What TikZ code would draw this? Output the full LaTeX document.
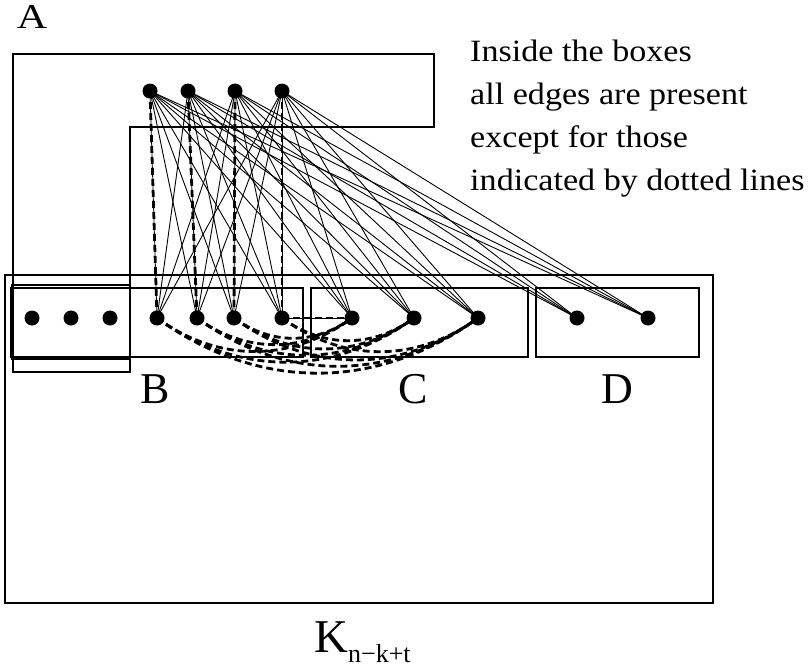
\documentclass[tikz,border=0pt]{standalone}
\usepackage{fontspec}
\setmainfont{Liberation Serif}
\begin{document}
\begin{tikzpicture}[x=1pt,y=-1pt,
  vtx/.style={circle,fill=black,inner sep=0pt,minimum size=15pt},
  frame/.style={draw=black,line width=2.2pt},
  edge/.style={line width=0.9pt},
  missing/.style={line width=2.8pt,dash pattern=on 7pt off 4pt},
  missingv/.style={preaction={draw,line width=0.8pt},missing},
  lbl/.style={inner sep=0pt,anchor=base}]
\useasboundingbox (0,0) rectangle (808,669);

% outer clique box and the set boxes
\draw[frame] (5,275) rectangle (713,603);
\draw[frame,line join=miter] (13,54) -- (434,54) -- (434,127) -- (130,127) -- (130,372) -- (13,372) -- cycle;
\draw[frame] (12,285) rectangle (130,359);
\draw[frame] (11,288) rectangle (303,357);
\draw[frame] (311,288) rectangle (528,357);
\draw[frame] (536,288) rectangle (699,357);

% vertices
\foreach \n/\x in {1/150,2/188,3/235,4/282} \node[vtx] (t\n) at (\x,91) {};
\foreach \n/\x in {1/157,2/197,3/234,4/282} \node[vtx] (b\n) at (\x,318) {};
\foreach \n/\x in {1/32,2/71,3/110} \node[vtx] (e\n) at (\x,318) {};
\foreach \n/\x in {1/352,2/414,3/478} \node[vtx] (c\n) at (\x,318) {};
\foreach \n/\x in {1/577,2/648} \node[vtx] (d\n) at (\x,318) {};

% edges from the top vertices
\foreach \i in {1,...,4}{
  \foreach \j in {1,...,4}{
    \ifnum\i=\j\else \draw[edge] (t\i.center) -- (b\j.center);\fi
  }
  \foreach \j in {1,2,3} \draw[edge] (t\i.center) -- (c\j.center);
  \foreach \j in {1,2} \draw[edge] (t\i.center) -- (d\j.center);
  \draw[missingv] (t\i.center) -- (b\i.center);
}

% missing edges between B and C
\foreach \i in {1,2,3,4}{
  \foreach \j in {1,2,3}{
    \ifnum\i\j=41
      \draw[missingv,line width=1.6pt] (b\i.center) -- (c\j.center);
    \else
      \draw[missing] (b\i.center) to[bend right=36] (c\j.center);
    \fi
  }
}

% labels
\node[lbl,xscale=1.2,font=\fontsize{35}{35}\selectfont] (la) at (32,29) {A};
\node[lbl,font=\fontsize{44}{44}\selectfont] (lb) at (155,403) {B};
\node[lbl,font=\fontsize{44}{44}\selectfont] (lc) at (413,403) {C};
\node[lbl,font=\fontsize{44}{44}\selectfont] (ld) at (617,403) {D};
\node[inner sep=0pt,anchor=base west] (lk) at (314,652)
  {\fontsize{47}{47}\selectfont K\raisebox{-10pt}{\fontsize{26}{26}\selectfont n−k+t}};
\node[inner sep=0pt,anchor=base west,align=left,xscale=1.1,
      font=\fontsize{31}{42.7}\selectfont] (note) at (470,190)
  {Inside the boxes\\all edges are present\\except for those\\indicated by dotted lines};
\end{tikzpicture}
\end{document}
